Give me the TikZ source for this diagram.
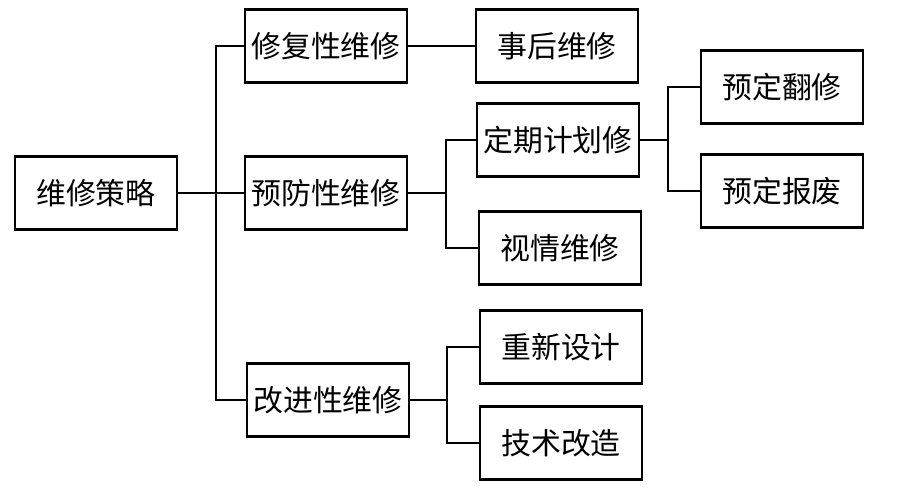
\documentclass[tikz,border=0pt]{standalone}
\usepackage{fontspec}
\setmainfont{Noto Sans CJK SC}
\usetikzlibrary{positioning}
\begin{document}
\begin{tikzpicture}[
    x=0.02cm,
    y=-0.02cm,
    box/.style={draw, line width=1.2pt, minimum width=3.24cm, minimum height=1.46cm, inner sep=0pt, font=\fontsize{17}{20}\selectfont},
    link/.style={line width=1pt}
]
    \useasboundingbox (0,0) rectangle (897,500);
    % Root and the three kinds of maintenance
    \node[box] (root) at (96,193) {维修策略};
    \node[box] (fix) at (326,46) {修复性维修};
    \node[box] (prev) at (326,193) {预防性维修};
    \node[box] (impr) at (328,400) {改进性维修};

    % Second level
    \node[box] (after) at (557,46) {事后维修};
    \node[box] (sched) at (558,140) {定期计划修};
    \node[box] (cond) at (560,248) {视情维修};
    \node[box] (redes) at (561,347) {重新设计};
    \node[box] (tech) at (561,443) {技术改造};

    % Third level
    \node[box] (overhaul) at (782,87) {预定翻修};
    \node[box] (scrap) at (782,191) {预定报废};

    % Branch points
    \coordinate (j1) at (216,193);
    \coordinate (j2) at (446,193);
    \coordinate (j3) at (668,140);
    \coordinate (j4) at (447,400);

    % Connectors
    \draw[link] (root) -- (prev);
    \draw[link] (fix.west) -| (j1) |- (impr.west);
    \draw[link] (fix) -- (after);
    \draw[link] (prev) -- (j2);
    \draw[link] (sched.west) -| (j2) |- (cond.west);
    \draw[link] (sched) -- (j3);
    \draw[link] (overhaul.west) -| (j3) |- (scrap.west);
    \draw[link] (impr) -- (j4);
    \draw[link] (redes.west) -| (j4) |- (tech.west);
\end{tikzpicture}
\end{document}
